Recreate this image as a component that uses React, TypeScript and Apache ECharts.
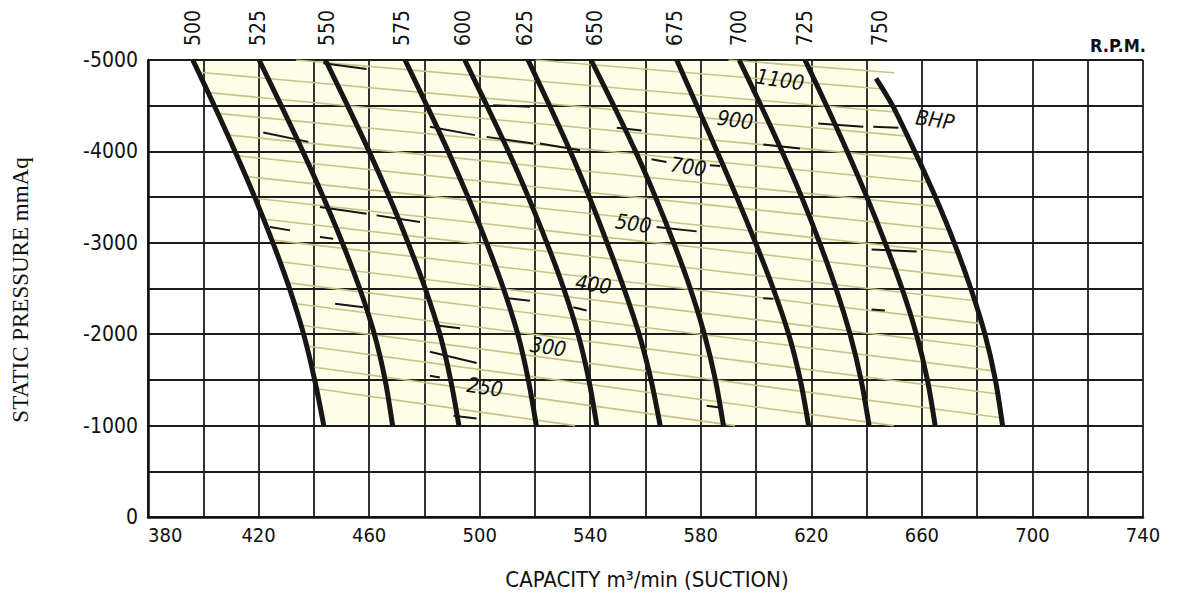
import React, { useEffect, useRef } from "react";
import * as echarts from "echarts";

// ---------- data ----------
const xTickLabels = [380, 420, 460, 500, 540, 580, 620, 660, 700, 740];
const yTickLabels = [-5000, -4000, -3000, -2000, -1000, 0];

const rpmNames = ["500", "525", "550", "575", "600", "625", "650", "675", "700", "725", "750"];
const rpmLabelX = [396.3, 419.8, 444.8, 471.9, 494, 516.4, 541.7, 570.7, 593.8, 617.7, 644.8];

const pressureLevels = [-5000, -4500, -4000, -3500, -3000, -2500, -2000, -1500, -1000];
const curve500 = [396.2, 404.0, 411.5, 418.6, 425.2, 431.2, 436.3, 440.3, 443.6];
const curve525 = [420.2, 428.2, 436.0, 443.4, 450.3, 456.6, 461.9, 465.8, 468.5];
const curve550 = [444.2, 452.2, 460.0, 467.3, 474.1, 480.3, 485.6, 489.5, 492.5];
const curve575 = [473.0, 480.9, 488.6, 495.8, 502.5, 508.6, 513.8, 517.6, 520.5];
const curve600 = [494.6, 502.6, 510.4, 517.6, 524.3, 530.4, 535.6, 539.5, 542.4];
const curve625 = [517.5, 525.3, 532.8, 539.7, 546.1, 552.2, 557.7, 562.0, 565.3];
const curve650 = [540.3, 548.5, 556.4, 563.6, 570.2, 576.2, 581.3, 585.3, 588.2];
const curve675 = [571.3, 578.6, 585.9, 593.0, 599.8, 606.2, 611.8, 616.0, 619.0];
const curve700 = [593.9, 601.8, 609.4, 616.5, 623.0, 628.9, 634.0, 638.0, 640.9];
const curve725 = [617.7, 625.5, 633.0, 640.1, 646.7, 652.8, 658.0, 662.0, 664.8];
// the 750 r.p.m. curve starts a little below the top border
const curve750Levels = [-4800, -4500, -4000, -3500, -3000, -2500, -2000, -1500, -1000];
const curve750 = [643.4, 649.4, 657.4, 664.9, 671.7, 677.7, 682.8, 686.6, 689.2];

const rpmCurves = [curve500, curve525, curve550, curve575, curve600, curve625, curve650, curve675, curve700, curve725, curve750];

// iso-BHP guide lines (olive), start / end points
const bhpLines = [
  [[590, -5000], [650, -4860]],
  [[520.2, -5000], [647, -4680]],
  [[433.5, -5000], [651, -4428]],
  [[398.3, -4866], [654.7, -4167]],
  [[401.8, -4643], [658.7, -3913]],
  [[405.2, -4416], [662.8, -3659]],
  [[408.5, -4181], [666.6, -3394]],
  [[411.7, -3954], [669.4, -3143]],
  [[415.1, -3727], [672.4, -2888]],
  [[418.7, -3488], [675.7, -2624]],
  [[421.6, -3260], [678.5, -2369]],
  [[424.6, -3032], [680.7, -2118]],
  [[427.8, -2793], [683, -1854]],
  [[430.8, -2562], [685.2, -1601]],
  [[433.5, -2334], [687, -1348]],
  [[436, -2095], [688.7, -1086]],
  [[437.9, -1868], [649.8, -1000]],
  [[439.5, -1642], [592.4, -1000]],
  [[441.8, -1400], [534.5, -1000]],
];

// short black dashes
const bhpDashes = [
  [[443.4, -4964], [459.1, -4901]],
  [[504.9, -4506], [518.2, -4488]],
  [[421.7, -4207], [438, -4104]],
  [[482, -4269], [498.3, -4178]],
  [[502.5, -4159], [519.4, -4087]],
  [[521.8, -4087], [536.3, -4013]],
  [[442.2, -3391], [459.1, -3319]],
  [[462.7, -3300], [478.4, -3227]],
  [[424.1, -3172], [431.4, -3136]],
  [[442.2, -3063], [447, -3045]],
  [[549.6, -4258], [558.6, -4229]],
  [[562.2, -3915], [567.6, -3885]],
  [[583.3, -3849], [587, -3841]],
  [[622.5, -4306], [638.8, -4269]],
  [[642.4, -4269], [651.5, -4258]],
  [[602.6, -4076], [615.9, -4032]],
  [[564, -3172], [578.5, -3125]],
  [[509.8, -2394], [518.2, -2365]],
  [[533.9, -2295], [538.7, -2259]],
  [[447.7, -2332], [457.9, -2295]],
  [[484.5, -2094], [492.9, -2065]],
  [[482, -1809], [498.9, -1685]],
  [[482, -1546], [485.6, -1527]],
  [[490.5, -1107], [498.9, -1078]],
  [[641.8, -2928], [658.1, -2906]],
  [[602.6, -2394], [606.2, -2387]],
  [[641.8, -2270], [646.6, -2259]],
  [[582.1, -1217], [586.9, -1198]],
];

const bhpLabelNames = ["250", "300", "400", "500", "700", "900", "1100", "BHP"];
const bhpLabelX = [501.9, 524.8, 541.1, 555.6, 575.5, 592.4, 608.7, 664.7];
const bhpLabelY = [-1418, -1857, -2541, -3209, -3830, -4342, -4781, -4342];

// ---------- styling ----------
const COND = '"DejaVu Sans Condensed", "Liberation Sans Narrow", "DejaVu Sans", sans-serif';
const SERIF = '"Liberation Serif", "DejaVu Serif", serif';

export default function App() {
  const ref = useRef<HTMLDivElement | null>(null);

  useEffect(() => {
    if (!ref.current) return;
    const chart = echarts.init(ref.current, null, { renderer: "svg" });

    const curvePoints = rpmCurves.map((c, i) =>
      c.map((x, k) => [x, i === rpmCurves.length - 1 ? curve750Levels[k] : pressureLevels[k]])
    );

    const fillPolygon = [
      ...curvePoints[0],
      ...[...curvePoints[curvePoints.length - 1]].reverse(),
      [645, -5000],
    ];

    const series: any[] = [];

    series.push({
      type: "custom",
      z: -1,
      silent: true,
      data: [0],
      renderItem: (_p: any, api: any) => ({
        type: "polygon",
        shape: { points: fillPolygon.map((pt) => api.coord(pt)) },
        style: { fill: "#fdfde8", stroke: "none" },
      }),
    });

    series.push({
      type: "lines",
      coordinateSystem: "cartesian2d",
      silent: true,
      z: 3,
      data: bhpLines.map((c) => ({ coords: c })),
      lineStyle: { color: "#c9c287", width: 1.6, opacity: 1 },
    });

    series.push({
      type: "lines",
      coordinateSystem: "cartesian2d",
      silent: true,
      z: 4,
      data: bhpDashes.map((c) => ({ coords: c })),
      lineStyle: { color: "#151515", width: 2, opacity: 1 },
    });

    curvePoints.forEach((c, i) => {
      series.push({
        type: "line",
        name: rpmNames[i],
        data: c,
        smooth: 0.3,
        symbol: "none",
        silent: true,
        z: 5,
        lineStyle: { color: "#161616", width: 5, cap: "butt" },
      });
    });

    const option: any = {
      animation: false,
      backgroundColor: "#ffffff",
      grid: { left: 148, right: 38, top: 60, bottom: 79 },
      xAxis: {
        type: "value",
        min: 380,
        max: 740,
        interval: 20,
        position: "bottom",
        axisLine: { show: true, onZero: false, lineStyle: { color: "#111", width: 2.5 } },
        axisTick: { show: false },
        splitLine: { show: true, lineStyle: { color: "#1c1c1c", width: 1.8 } },
        axisLabel: {
          formatter: (v: number) => (xTickLabels.includes(v) ? String(v) : ""),
          fontFamily: COND,
          fontSize: 20,
          color: "#111",
          margin: 8,
          alignMinLabel: "left",
        },
      },
      yAxis: {
        type: "value",
        min: -5000,
        max: 0,
        interval: 500,
        inverse: true,
        axisLine: { show: true, lineStyle: { color: "#111", width: 2.5 } },
        axisTick: { show: false },
        splitLine: { show: true, lineStyle: { color: "#1c1c1c", width: 1.8 } },
        axisLabel: {
          formatter: (v: number) => (yTickLabels.includes(v) ? String(v) : ""),
          fontFamily: COND,
          fontSize: 21,
          color: "#111",
          margin: 10,
        },
      },
      series,
    };

    chart.setOption(option);

    const graphics: any[] = [];
    rpmNames.forEach((n, i) => {
      const p = chart.convertToPixel({ gridIndex: 0 }, [rpmLabelX[i], -5000]) as number[];
      graphics.push({
        type: "text",
        x: p[0],
        y: 46,
        rotation: Math.PI / 2,
        silent: true,
        style: {
          text: n,
          font: `21px ${COND}`,
          fill: "#111",
          align: "left",
          verticalAlign: "middle",
          textAlign: "left",
          textVerticalAlign: "middle",
        },
      });
    });
    bhpLabelNames.forEach((n, i) => {
      const p = chart.convertToPixel({ gridIndex: 0 }, [bhpLabelX[i], bhpLabelY[i]]) as number[];
      graphics.push({
        type: "text",
        x: p[0],
        y: p[1],
        rotation: -0.15,
        silent: true,
        z: 10,
        style: {
          text: n,
          font: `italic 21px ${COND}`,
          fill: "#111",
          align: "center",
          verticalAlign: "middle",
          textAlign: "center",
          textVerticalAlign: "middle",
        },
      });
    });
    graphics.push({
      type: "text",
      x: 1146,
      y: 45,
      silent: true,
      style: {
        text: "R.P.M.",
        font: `bold 18px ${COND}`,
        fill: "#111",
        align: "right",
        verticalAlign: "middle",
        textAlign: "right",
        textVerticalAlign: "middle",
      },
    });
    graphics.push({
      type: "text",
      x: 20,
      y: 290,
      rotation: Math.PI / 2,
      silent: true,
      style: {
        text: "STATIC PRESSURE mmAq",
        font: `23px ${SERIF}`,
        fill: "#111",
        align: "center",
        verticalAlign: "middle",
        textAlign: "center",
        textVerticalAlign: "middle",
      },
    });
    graphics.push({
      type: "text",
      x: 647,
      y: 579,
      silent: true,
      style: {
        text: "CAPACITY m³/min (SUCTION)",
        font: `22px ${COND}`,
        fill: "#111",
        align: "center",
        verticalAlign: "middle",
        textAlign: "center",
        textVerticalAlign: "middle",
      },
    });

    chart.setOption({ graphic: { elements: graphics } });

    return () => chart.dispose();
  }, []);

  return (
    <div
      ref={ref}
      style={{ position: "fixed", left: 0, top: 0, width: 1181, height: 596, background: "#fff" }}
    />
  );
}
